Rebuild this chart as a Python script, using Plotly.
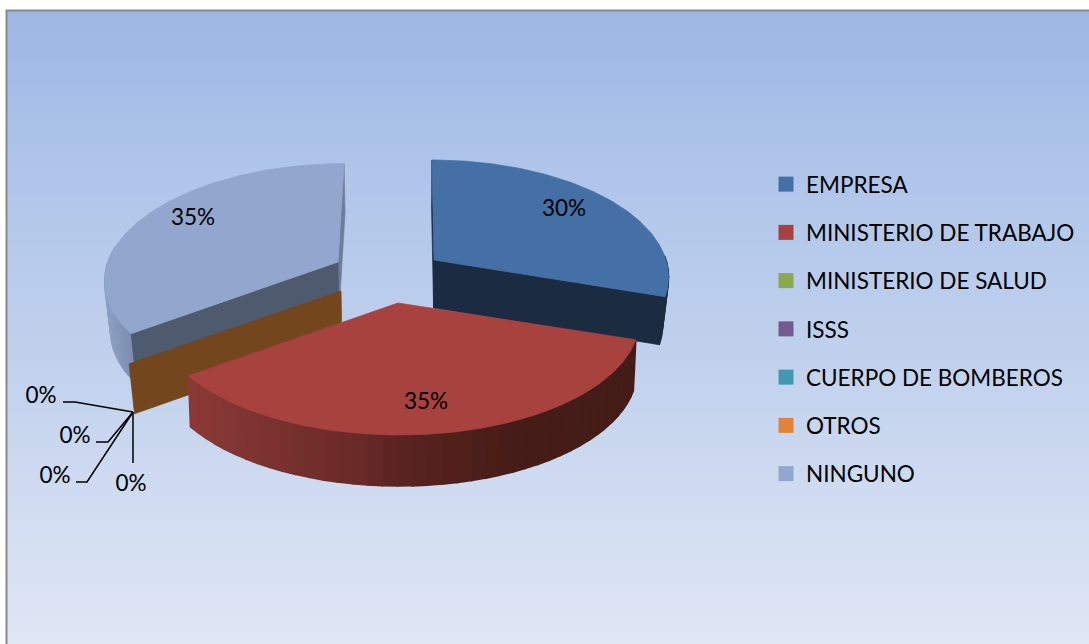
import numpy as np
import plotly.graph_objects as go

# -----------------------------
# Data
# -----------------------------
categories = ["EMPRESA", "MINISTERIO DE TRABAJO", "MINISTERIO DE SALUD", "ISSS",
              "CUERPO DE BOMBEROS", "OTROS", "NINGUNO"]
shares = [30, 35, 0, 0, 0, 0, 35]
swatch_colors = ["#4470A5", "#A8423F", "#8BA84F", "#745A90", "#439AB0", "#DE853B", "#93A6CE"]

# -----------------------------
# Style of the fake 3D pie (pixels)
# -----------------------------
W, H = 1089, 644
TILT = 0.138

# slice geometry after the explosion
EMPTY = dict(cx=341, cy=291, rx=236, ry=113.8, vp=388, depth=50, shrink=0.021)
geometry = {
    0: dict(cx=434, cy=260, rx=232, ry=113.8, vp=417, depth=48, shrink=0.024),
    1: dict(cx=398, cy=303, rx=239, ry=113.8, vp=388, depth=51, shrink=0.010),
    2: EMPTY, 3: EMPTY, 4: EMPTY, 5: EMPTY,
    6: dict(cx=338, cy=262, rx=230, ry=112, vp=388, depth=50, shrink=0.021),
}

RED_WALL_X = [188, 360, 400, 520, 634]
RED_WALL_RGB = [(140, 58, 55), (105, 42, 40), (90, 36, 33), (70, 28, 24), (68, 28, 24)]
GREY_WALL_X = [103, 130]
GREY_WALL_RGB = [(142, 160, 196), (125, 142, 176)]
NAVY = (26, 43, 66)

bg_stops = [(11, "#9DB7E4"), (160, "#AEC4E9"), (400, "#C5D4EE"), (644, "#E0E7F5")]

# label positions, same order as shares
label_xy = [(564, 210), (426, 403), (41, 397), (75, 437), (55, 477), (131, 485), (193, 219)]
label_hub = (133, 412)
# elbow of each leader line for the empty slices
leader_paths = {2: [(63, 402), (75, 402)], 3: [(96, 442), (108, 442)],
                4: [(76, 482), (87, 482)], 5: [(133, 463)]}


def project(angle, s):
    t = np.radians(angle)
    u, v = np.sin(t), -np.cos(t)
    w = 1 / (1 - TILT * v)
    return s["vp"] + (s["cx"] - s["vp"] + s["rx"] * u) * w, s["cy"] + s["ry"] * v * w


def drop(x, y, s):
    return x + (s["vp"] - x) * s["shrink"], y + s["depth"]


def poly(xs, ys, rgb, group, width=0.7):
    col = "rgb(%d,%d,%d)" % tuple(rgb)
    return go.Scatter(x=xs, y=ys, mode="lines", fill="toself", fillcolor=col,
                      line=dict(color=col, width=width), legendgroup=group,
                      showlegend=False, hoverinfo="skip")


def rim(a0, a1, s, stops_x, stops_rgb, group, n):
    edges = np.linspace(a0, a1, n + 1)
    out = []
    for p, q in zip(edges[:-1], edges[1:]):
        x0, y0 = project(p, s)
        x1, y1 = project(q, s)
        x2, y2 = drop(x1, y1, s)
        x3, y3 = drop(x0, y0, s)
        mid = (x0 + x1) / 2
        rgb = [np.interp(mid, stops_x, [c[i] for c in stops_rgb]) for i in range(3)]
        out.append(poly([x0, x1, x2, x3, x0], [y0, y1, y2, y3, y0], rgb, group, width=1.5))
    return out


def face(angle, s, rgb, group):
    cx, cy = s["cx"], s["cy"]
    x1, y1 = project(angle, s)
    bx0, by0 = drop(cx, cy, s)
    bx1, by1 = drop(x1, y1, s)
    return poly([cx, x1, bx1, bx0, cx], [cy, y1, by1, by0, cy], rgb, group)


def top(a0, a1, s, color, group):
    xs, ys = project(np.linspace(a0, a1, 120), s)
    cx, cy = s["cx"], s["cy"]
    return go.Scatter(x=[cx, *xs, cx], y=[cy, *ys, cy], mode="lines", fill="toself",
                      fillcolor=color, line=dict(color=color, width=0.7), legendgroup=group,
                      showlegend=False, hoverinfo="skip")


# cumulative angles from the shares
ends = np.cumsum(shares) * 360 / sum(shares)
starts = np.concatenate([[0], ends[:-1]])

fig = go.Figure()

# -----------------------------
# Background gradient
# -----------------------------
rows = np.arange(11, 646, 2)
fig.add_trace(go.Heatmap(
    x=[7, W + 1], y=rows, z=(rows[:-1] + 1).reshape(-1, 1),
    zmin=11, zmax=644, showscale=False, hoverinfo="skip",
    colorscale=[[(s - 11) / 633, c] for s, c in bg_stops]
))

# -----------------------------
# Legend entries (first, so the groups keep this order)
# -----------------------------
for name, color in zip(categories, swatch_colors):
    fig.add_trace(go.Scatter(
        x=[None], y=[None], mode="markers", name=name, legendgroup=name,
        marker=dict(symbol="square", size=15, color=color)
    ))

# -----------------------------
# NINGUNO, back left
# -----------------------------
g = categories[6]
fig.add_traces(rim(starts[6], 278, geometry[6], GREY_WALL_X, GREY_WALL_RGB, g, 20))
fig.add_trace(face(360, geometry[6], (110, 125, 155), g))
fig.add_trace(face(starts[6], geometry[6], (78, 90, 110), g))
fig.add_trace(top(starts[6], ends[6], geometry[6], swatch_colors[6], g))

# -----------------------------
# empty slices only show their cut face
# -----------------------------
fig.add_trace(face(starts[5], geometry[5], (115, 70, 30), categories[5]))

# -----------------------------
# EMPRESA
# -----------------------------
g = categories[0]
fig.add_trace(face(starts[0], geometry[0], NAVY, g))
fig.add_traces(rim(88, ends[0], geometry[0], [0, W], [NAVY, NAVY], g, 6))
fig.add_trace(face(ends[0], geometry[0], NAVY, g))
fig.add_trace(top(starts[0], ends[0], geometry[0], swatch_colors[0], g))

# -----------------------------
# MINISTERIO DE TRABAJO
# -----------------------------
g = categories[1]
fig.add_traces(rim(starts[1], ends[1], geometry[1], RED_WALL_X, RED_WALL_RGB, g, 40))
fig.add_trace(top(starts[1], ends[1], geometry[1], swatch_colors[1], g))

# -----------------------------
# Leader lines of the 0% labels
# -----------------------------
for i, path in leader_paths.items():
    fig.add_trace(go.Scatter(
        x=[p[0] for p in path] + [label_hub[0]],
        y=[p[1] for p in path] + [label_hub[1]],
        mode="lines", line=dict(color="black", width=1.5),
        legendgroup=categories[i], showlegend=False, hoverinfo="skip"
    ))

# -----------------------------
# Percent labels
# -----------------------------
fig.add_trace(go.Scatter(
    x=[p[0] for p in label_xy], y=[p[1] for p in label_xy],
    text=["%d%%" % s for s in shares], mode="text", textposition="middle center",
    textfont=dict(family="Lato", size=22.5, color="black"),
    showlegend=False, hoverinfo="skip"
))

# -----------------------------
# Layout
# -----------------------------
fig.update_layout(
    width=W, height=H,
    margin=dict(l=0, r=0, t=0, b=0),
    paper_bgcolor="white", plot_bgcolor="white",
    xaxis=dict(range=[0, W], visible=False, fixedrange=True),
    yaxis=dict(range=[H, 0], visible=False, fixedrange=True),
    showlegend=True,
    legend=dict(x=766 / W, y=1 - 163 / H, xanchor="left", yanchor="top",
                bgcolor="rgba(0,0,0,0)", tracegroupgap=16, traceorder="grouped",
                font=dict(family="Lato", size=22.5, color="black")),
    shapes=[dict(type="rect", x0=6.5, y0=10.5, x1=W + 10, y1=H + 10, xref="x", yref="y",
                 line=dict(color="#898989", width=2), layer="above")]
)

fig.write_html("out.html", config={"displayModeBar": False},
               post_script="document.body.style.margin='0';")
